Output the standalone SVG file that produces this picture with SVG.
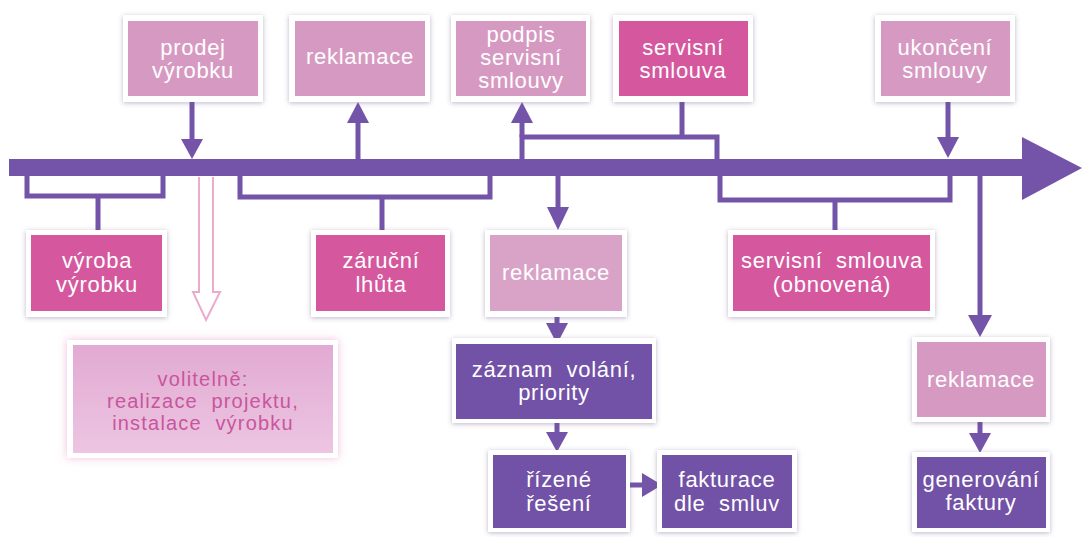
<svg xmlns="http://www.w3.org/2000/svg" width="1083" height="537" viewBox="0 0 1083 537">
<defs>
<filter id="sh" x="-20%" y="-20%" width="140%" height="140%">
<feDropShadow dx="0" dy="1" stdDeviation="2.5" flood-color="#6a5a8a" flood-opacity="0.45"/>
</filter>
<filter id="glow" x="-20%" y="-20%" width="140%" height="140%">
<feDropShadow dx="0" dy="0" stdDeviation="4" flood-color="#e27fb8" flood-opacity="0.5"/>
</filter>
<linearGradient id="optg" x1="0" y1="0" x2="0" y2="1">
<stop offset="0" stop-color="#e2aad2"/>
<stop offset="1" stop-color="#ecc5e2"/>
</linearGradient>
</defs>
<style>
.frame{fill:#ffffff;filter:url(#sh)}
.lp{fill:#d69ac2}
.mp{fill:#d9a3c8}
.dp{fill:#d5589e}
.pu{fill:#7252a6}
.t{font-family:"Liberation Sans",Arial,sans-serif;font-size:22px;letter-spacing:0.7px;fill:#ffffff;text-anchor:middle;white-space:pre}
.o{fill:#c9559d;font-size:20px;letter-spacing:1.2px}
.c{fill:none;stroke:#7354a8;stroke-width:5}
.hd{fill:#7354a8}
</style>

<g id="connectors">
<rect x="9" y="159" width="1015" height="17" fill="#7354a8"/>
<polygon points="1022,137 1082,168 1022,200" fill="#7354a8"/>
<line class="c" x1="192" y1="102" x2="192" y2="142"/>
<polygon class="hd" points="181,139 203,139 192,159"/>
<line class="c" x1="358" y1="159" x2="358" y2="120"/>
<polygon class="hd" points="347,123 369,123 358,102"/>
<polyline class="c" points="522,159 522,137 717,137 717,159"/>
<line class="c" x1="522" y1="137" x2="522" y2="120"/>
<polygon class="hd" points="511,123 533,123 522,102"/>
<line class="c" x1="682" y1="102" x2="682" y2="137"/>
<line class="c" x1="948" y1="102" x2="948" y2="140"/>
<polygon class="hd" points="937,137 959,137 948,158"/>
<polyline class="c" points="27,176 27,196 163,196 163,176"/>
<line class="c" x1="98" y1="196" x2="98" y2="230"/>
<polyline class="c" points="240,176 240,197 490,197 490,176"/>
<line class="c" x1="382" y1="197" x2="382" y2="230"/>
<line class="c" x1="558" y1="176" x2="558" y2="210"/>
<polygon class="hd" points="547,207 569,207 558,230"/>
<polyline class="c" points="720,176 720,200 950,200 950,176"/>
<line class="c" x1="835" y1="200" x2="835" y2="230"/>
<line class="c" x1="980" y1="176" x2="980" y2="318"/>
<polygon class="hd" points="968,315 992,315 980,337"/>
<line class="c" x1="557" y1="317" x2="557" y2="326"/>
<polygon class="hd" points="546,323 568,323 557,344"/>
<line class="c" x1="557" y1="423" x2="557" y2="435"/>
<polygon class="hd" points="546,432 568,432 557,452"/>
<line class="c" x1="630" y1="485" x2="645" y2="485"/>
<polygon class="hd" points="642,473 662,485 642,497"/>
<line class="c" x1="980" y1="422" x2="980" y2="436"/>
<polygon class="hd" points="969,433 991,433 980,453"/>
<path d="M199,177 L199,292 L193,292 L206,320 L220,292 L213,292 L213,177" fill="#ffffff" stroke="#eeaacd" stroke-width="2"/>
</g>

<g id="n-prodej">
<rect class="frame" x="123" y="15" width="140" height="87"/>
<rect class="lp" x="128" y="21" width="130" height="75"/>
<text class="t" x="193" y="55">prodej</text>
<text class="t" x="193" y="78">výrobku</text>
</g>
<g id="n-reklamace-top">
<rect class="frame" x="289" y="15" width="141" height="87"/>
<rect class="lp" x="295" y="21" width="130" height="75"/>
<text class="t" x="360" y="64">reklamace</text>
</g>
<g id="n-podpis">
<rect class="frame" x="451" y="15" width="139" height="87"/>
<rect class="lp" x="456" y="21" width="130" height="75"/>
<text class="t" x="521" y="42">podpis</text>
<text class="t" x="521" y="65">servisní</text>
<text class="t" x="521" y="88">smlouvy</text>
</g>
<g id="n-servisni">
<rect class="frame" x="613" y="15" width="140" height="87"/>
<rect class="dp" x="619" y="21" width="129" height="75"/>
<text class="t" x="683" y="55">servisní</text>
<text class="t" x="683" y="78">smlouva</text>
</g>
<g id="n-ukonceni">
<rect class="frame" x="875" y="15" width="140" height="87"/>
<rect class="lp" x="881" y="21" width="129" height="75"/>
<text class="t" x="945" y="55">ukončení</text>
<text class="t" x="945" y="78">smlouvy</text>
</g>
<g id="n-vyroba">
<rect class="frame" x="26" y="230" width="141" height="87"/>
<rect class="dp" x="31" y="235" width="131" height="76"/>
<text class="t" x="97" y="268">výroba</text>
<text class="t" x="97" y="292">výrobku</text>
</g>
<g id="n-zarucni">
<rect class="frame" x="311" y="230" width="139" height="87"/>
<rect class="dp" x="316" y="235" width="129" height="76"/>
<text class="t" x="381" y="268">záruční</text>
<text class="t" x="381" y="292">lhůta</text>
</g>
<g id="n-reklamace-mid">
<rect class="frame" x="485" y="230" width="142" height="87"/>
<rect class="mp" x="490" y="235" width="132" height="76"/>
<text class="t" x="556" y="280">reklamace</text>
</g>
<g id="n-obnovena">
<rect class="frame" x="728" y="230" width="207" height="87"/>
<rect class="dp" x="733" y="235" width="197" height="76"/>
<text class="t" x="832" y="268">servisní  smlouva</text>
<text class="t" x="832" y="292">(obnovená)</text>
</g>
<g id="n-volitelne">
<rect x="67" y="340" width="271" height="118" fill="#ffffff" filter="url(#glow)"/>
<rect x="73" y="345" width="260" height="108" fill="url(#optg)"/>
<text class="t o" x="203" y="386">volitelně:</text>
<text class="t o" x="203" y="408">realizace  projektu,</text>
<text class="t o" x="203" y="430">instalace  výrobku</text>
</g>
<g id="n-zaznam">
<rect class="frame" x="452" y="338" width="204" height="85"/>
<rect class="pu" x="456" y="344" width="196" height="75"/>
<text class="t" x="554" y="377">záznam  volání,</text>
<text class="t" x="554" y="400">priority</text>
</g>
<g id="n-rizene">
<rect class="frame" x="488" y="450" width="142" height="82"/>
<rect class="pu" x="493" y="455" width="133" height="73"/>
<text class="t" x="559" y="487">řízené</text>
<text class="t" x="559" y="511">řešení</text>
</g>
<g id="n-fakturace">
<rect class="frame" x="657" y="450" width="140" height="82"/>
<rect class="pu" x="662" y="455" width="130" height="73"/>
<text class="t" x="727" y="487">fakturace</text>
<text class="t" x="727" y="511">dle  smluv</text>
</g>
<g id="n-reklamace-right">
<rect class="frame" x="912" y="337" width="138" height="85"/>
<rect class="lp" x="917" y="342" width="129" height="75"/>
<text class="t" x="981" y="387">reklamace</text>
</g>
<g id="n-generovani">
<rect class="frame" x="912" y="452" width="138" height="80"/>
<rect class="pu" x="917" y="457" width="129" height="71"/>
<text class="t" x="981" y="487">generování</text>
<text class="t" x="981" y="510">faktury</text>
</g>
</svg>
